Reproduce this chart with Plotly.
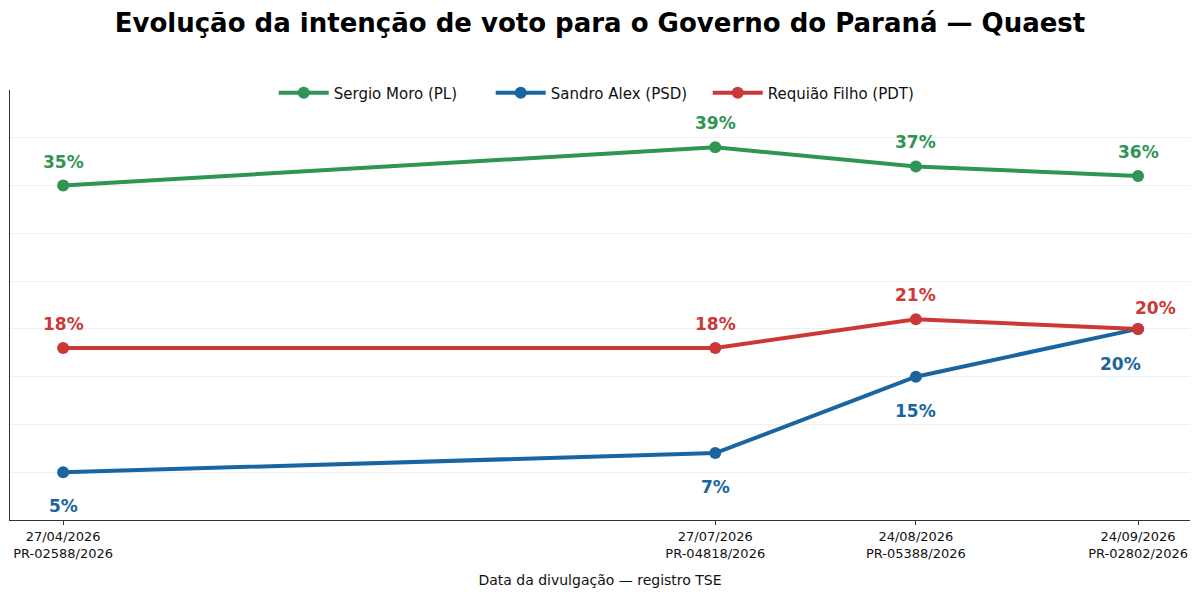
import plotly.graph_objects as go

# dados da pesquisa Quaest - Governo do Paraná
datas = ["2026-04-27", "2026-07-27", "2026-08-24", "2026-09-24"]
registros = ["PR-02588/2026", "PR-04818/2026", "PR-05388/2026", "PR-02802/2026"]
datas_txt = ["27/04/2026", "27/07/2026", "24/08/2026", "24/09/2026"]

moro = [35, 39, 37, 36]
sandro = [5, 7, 15, 20]
requiao = [18, 18, 21, 20]

nomes = ["Sergio Moro (PL)", "Sandro Alex (PSD)", "Requião Filho (PDT)"]
cores = ["#2e9553", "#1a64a0", "#cc3838"]

fig = go.Figure()
for nome, vals, cor in zip(nomes, [moro, sandro, requiao], cores):
    fig.add_trace(go.Scatter(x=datas, y=vals, mode="lines+markers", name=nome,
                             line=dict(color=cor, width=4),
                             marker=dict(color=cor, size=12)))

# rótulos dos valores
for vals, cor, desloc in [(moro, cores[0], 24), (requiao, cores[2], 24), (sandro, cores[1], -34)]:
    for i, (d, v) in enumerate(zip(datas, vals)):
        xs, ys = 0, desloc
        if i == len(datas) - 1 and vals is requiao:
            xs, ys = 17, 21
        if i == len(datas) - 1 and vals is sandro:
            xs, ys = -18, -35
        fig.add_annotation(x=d, y=v, text=f"<b>{v}%</b>", showarrow=False,
                           xshift=xs, yshift=ys,
                           font=dict(color=cor, size=17, family="DejaVu Sans"))

# a página tem margem de 8px no body, então a figura é um pouco menor
fig.update_layout(
    width=1184, height=580,
    paper_bgcolor="white", plot_bgcolor="white",
    margin=dict(l=2, r=2, t=82, b=68, autoexpand=False),
    font=dict(family="DejaVu Sans", color="#111"),
    title=dict(text="<b>Evolução da intenção de voto para o Governo do Paraná — Quaest</b>",
               x=0.5, xanchor="center", y=0.975, yanchor="middle",
               font=dict(size=26, color="#000")),
    legend=dict(orientation="h", x=0.2235, xanchor="left", y=0.993, yanchor="middle",
                font=dict(size=15), itemwidth=50, entrywidth=152, entrywidthmode="pixels",
                bgcolor="rgba(0,0,0,0)"),
    showlegend=True,
)
fig.update_xaxes(
    type="date", range=["2026-04-19 14:00", "2026-10-01 06:00"], automargin=False,
    tickvals=datas, ticktext=[f"{a}<br>{b}" for a, b in zip(datas_txt, registros)],
    ticks="outside", ticklen=4, tickcolor="#333", tickfont=dict(size=13, color="#111"),
    showline=True, linecolor="#333", linewidth=1, showgrid=False, zeroline=False,
    title=dict(text="Data da divulgação — registro TSE", font=dict(size=14), standoff=16),
)
fig.update_yaxes(
    range=[0, 45], dtick=5, showticklabels=False, ticks="", automargin=False,
    showline=True, linecolor="#333", linewidth=1,
    showgrid=True, gridcolor="#f0f0f0", gridwidth=1, zeroline=False,
)

fig.write_html("out.html")
